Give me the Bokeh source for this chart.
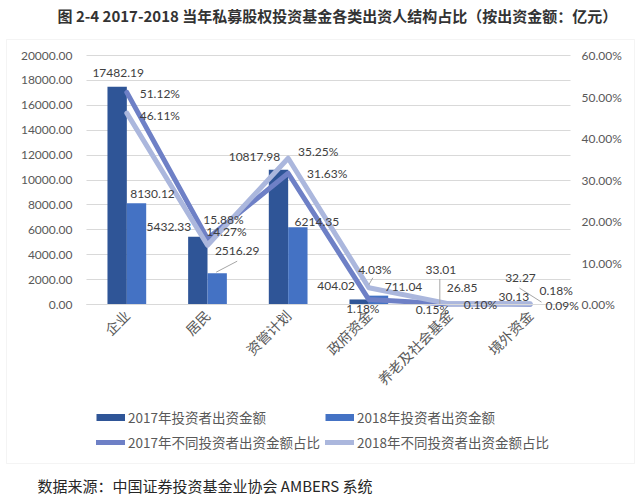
import math
from bokeh.plotting import figure
from bokeh.models import (ColumnDataSource, LinearAxis, Range1d, FixedTicker, Grid,
                          NumeralTickFormatter, LabelSet, Label, Legend, LegendItem, BoxAnnotation)
from bokeh.transform import dodge
from bokeh.core.properties import value
from bokeh.embed import file_html
from bokeh.resources import INLINE

# ---------------- data ----------------
categories = ["企业", "居民", "资管计划", "政府资金", "养老及社会基金", "境外资金"]
amount_2017 = [17482.19, 5432.33, 10817.98, 404.02, 33.01, 32.27]
amount_2018 = [8130.12, 2516.29, 6214.35, 711.04, 26.85, 30.13]
share_2017 = [0.5112, 0.1588, 0.3163, 0.0118, 0.0010, 0.0009]
share_2018 = [0.4611, 0.1427, 0.3525, 0.0403, 0.0015, 0.0018]
left_ticks = [0, 2000, 4000, 6000, 8000, 10000, 12000, 14000, 16000, 18000, 20000]
right_ticks = [0.0, 0.1, 0.2, 0.3, 0.4, 0.5, 0.6]
series_names = ["2017年投资者出资金额", "2018年投资者出资金额",
                "2017年不同投资者出资金额占比", "2018年不同投资者出资金额占比"]
title_text = "图 2-4 2017-2018 当年私募股权投资基金各类出资人结构占比（按出资金额：亿元）"
source_text = "数据来源：中国证券投资基金业协会 AMBERS 系统"

# ---------------- label placement (screen px offsets) ----------------
a17_dx = [1, -29, -24, -23, 1, 0]
a17_dy = [14, 10, 13, 13, 34, 26]
a18_dx = [16, 20, 19, 25, 3, -26]
a18_dy = [9, 22, 5, 9, 16, 7]
s17_dx = [33, 16, 39, -6, 31, 32]
s17_dy = [-1, 19, 0, -9, 0, -1]
s18_dx = [33, 19, 30, 6, -17, 26]
s18_dy = [-2, 14, 7, 18, -6, 13]

# ---------------- layout ----------------
W, H = 641, 501
PL, PR, PT, PB = 86, 570, 55, 304      # plot area on canvas
BAR_W = 0.24
GREY = "#595959"
C17, C18 = "#2F5597", "#4472C4"
L17, L18 = "#6E80C6", "#ABB7DD"
NUM_FONT = "Lato"
CJK_FONT = "Noto Sans CJK SC"

n = len(categories)
ux = n / (PR - PL)                                         # data x per pixel
uy = (left_ticks[-1] - left_ticks[0]) / (PB - PT)          # data y per pixel
ratio = right_ticks[-1] / left_ticks[-1]
x_range = Range1d(-PL * ux, n + (W - PR) * ux)
y_range = Range1d(-(H - PB) * uy, left_ticks[-1] + PT * uy)

p = figure(width=W, height=H, x_range=x_range, y_range=y_range,
           x_axis_type=None, y_axis_type=None, title=None,
           output_backend="svg", toolbar_location=None, min_border=0)
p.extra_y_ranges = {"pct": Range1d(y_range.start * ratio, y_range.end * ratio)}
p.outline_line_color = None
p.background_fill_color = "white"
p.border_fill_color = "white"

# grid
grid = Grid(dimension=1, ticker=FixedTicker(ticks=left_ticks), grid_line_color="#D9D9D9")
grid.cross_bounds = (0, n)
p.add_layout(grid)

# left axis
la = LinearAxis(ticker=FixedTicker(ticks=left_ticks), formatter=NumeralTickFormatter(format="0.00"),
                fixed_location=0, bounds=(left_ticks[0], left_ticks[-1]))
# right axis
ra = LinearAxis(y_range_name="pct", ticker=FixedTicker(ticks=right_ticks),
                formatter=NumeralTickFormatter(format="0.00%"), fixed_location=n,
                bounds=(right_ticks[0], right_ticks[-1]))
for a, so in ((la, 14), (ra, 11)):
    a.axis_line_color = None
    a.major_tick_line_color = None
    a.minor_tick_line_color = None
    a.major_tick_out = 0
    a.major_tick_in = 0
    a.major_label_standoff = so
    a.major_label_text_font = NUM_FONT
    a.major_label_text_font_size = "12px"
    a.major_label_text_color = GREY
p.add_layout(la, "left")
p.add_layout(ra, "right")

# category axis
centers = [i + 0.5 for i in range(n)]
xa = LinearAxis(ticker=FixedTicker(ticks=centers), fixed_location=0, bounds=(0, n),
                major_label_overrides={c: name for c, name in zip(centers, categories)})
xa.axis_line_color = "#D9D9D9"
xa.major_tick_line_color = None
xa.minor_tick_line_color = None
xa.major_tick_out = 0
xa.major_tick_in = 0
xa.major_label_orientation = math.pi / 4
xa.major_label_standoff = 8
xa.major_label_text_font = CJK_FONT
xa.major_label_text_font_size = "14px"
xa.major_label_text_color = GREY
p.add_layout(xa, "below")

src = ColumnDataSource(dict(
    x=centers, a17=amount_2017, a18=amount_2018, s17=share_2017, s18=share_2018,
    a17_txt=[f"{v:.2f}" for v in amount_2017], a18_txt=[f"{v:.2f}" for v in amount_2018],
    s17_txt=[f"{v*100:.2f}%" for v in share_2017], s18_txt=[f"{v*100:.2f}%" for v in share_2018],
    a17_dx=a17_dx, a17_dy=a17_dy, a18_dx=a18_dx, a18_dy=a18_dy,
    s17_dx=s17_dx, s17_dy=s17_dy, s18_dx=s18_dx, s18_dy=s18_dy,
))

b17 = p.vbar(x=dodge("x", -BAR_W / 2), top="a17", width=BAR_W, source=src,
             fill_color=C17, line_color=None)
b18 = p.vbar(x=dodge("x", BAR_W / 2), top="a18", width=BAR_W, source=src,
             fill_color=C18, line_color=None)
ln17 = p.line(x="x", y="s17", source=src, y_range_name="pct", line_color=L17, line_width=5,
              line_join="round", line_cap="round")
ln18 = p.line(x="x", y="s18", source=src, y_range_name="pct", line_color=L18, line_width=5,
              line_join="round", line_cap="round")

# leader lines (data anchors + pixel offsets)
lead = dict(x0=[], y0=[], x1=[], y1=[])
def add_lead(xc, yv, dx0, dy0, dx1, dy1):
    lead["x0"].append(xc + dx0 * ux); lead["y0"].append(yv - dy0 * uy)
    lead["x1"].append(xc + dx1 * ux); lead["y1"].append(yv - dy1 * uy)
add_lead(centers[1] + BAR_W / 2, amount_2018[1], -1, -1, 20, -12)
add_lead(centers[4] - BAR_W / 2, amount_2017[4], 0, 0, 0, -25)
add_lead(centers[3], share_2018[3] / ratio, 0, -3, 4, -10)
add_lead(centers[5] - BAR_W / 2, amount_2017[5], -1, -16, 21, -2)
p.segment(x0="x0", y0="y0", x1="x1", y1="y1", source=ColumnDataSource(lead),
          line_color="#A6A6A6", line_width=1)

common = dict(source=src, text_align="center", text_baseline="middle",
              text_font=value(NUM_FONT), text_font_size="12px", text_color="#404040")
p.add_layout(LabelSet(x=dodge("x", -BAR_W / 2), y="a17", text="a17_txt",
                      x_offset="a17_dx", y_offset="a17_dy", **common))
p.add_layout(LabelSet(x=dodge("x", BAR_W / 2), y="a18", text="a18_txt",
                      x_offset="a18_dx", y_offset="a18_dy", **common))
p.add_layout(LabelSet(x="x", y="s17", text="s17_txt", y_range_name="pct",
                      x_offset="s17_dx", y_offset="s17_dy", **common))
p.add_layout(LabelSet(x="x", y="s18", text="s18_txt", y_range_name="pct",
                      x_offset="s18_dx", y_offset="s18_dy", **common))

# legend-only renderers (invisible NaN points, used only for legend swatches)
nan = float("nan")
swatch = ColumnDataSource(dict(x=[nan, nan], y=[nan, nan]))
g17 = p.line(x="x", y="y", source=swatch, line_color=C17, line_width=7, line_cap="butt")
g18 = p.line(x="x", y="y", source=swatch, line_color=C18, line_width=7, line_cap="butt")
legend = Legend(items=[LegendItem(label=series_names[0], renderers=[g17]),
                       LegendItem(label=series_names[1], renderers=[g18]),
                       LegendItem(label=series_names[2], renderers=[ln17]),
                       LegendItem(label=series_names[3], renderers=[ln18])],
                orientation="horizontal", ncols=2,
                location=(96, 49),
                glyph_width=29, glyph_height=20, label_height=20, label_standoff=3,
                spacing=5, padding=0, margin=0,
                label_text_font=CJK_FONT, label_text_font_size="13.5px", label_text_color=GREY,
                border_line_color=None, background_fill_alpha=0)
p.add_layout(legend, "center")

# chart border
p.add_layout(BoxAnnotation(left=6, right=634, top=H - 39, bottom=H - 463,
                           left_units="screen", right_units="screen", top_units="screen",
                           bottom_units="screen", fill_alpha=0, line_color="#D9D9D9", line_width=1))

# title and source
p.add_layout(Label(x=57, y=H - 15, x_units="screen", y_units="screen", text=title_text,
                   text_font=CJK_FONT, text_font_size="15px", text_font_style="bold",
                   text_color="#333333", text_baseline="middle"))
p.add_layout(Label(x=37, y=H - 485, x_units="screen", y_units="screen", text=source_text,
                   text_font=CJK_FONT, text_font_size="15px",
                   text_color="#262626", text_baseline="middle"))

open("out.html", "w").write(file_html(p, INLINE))
